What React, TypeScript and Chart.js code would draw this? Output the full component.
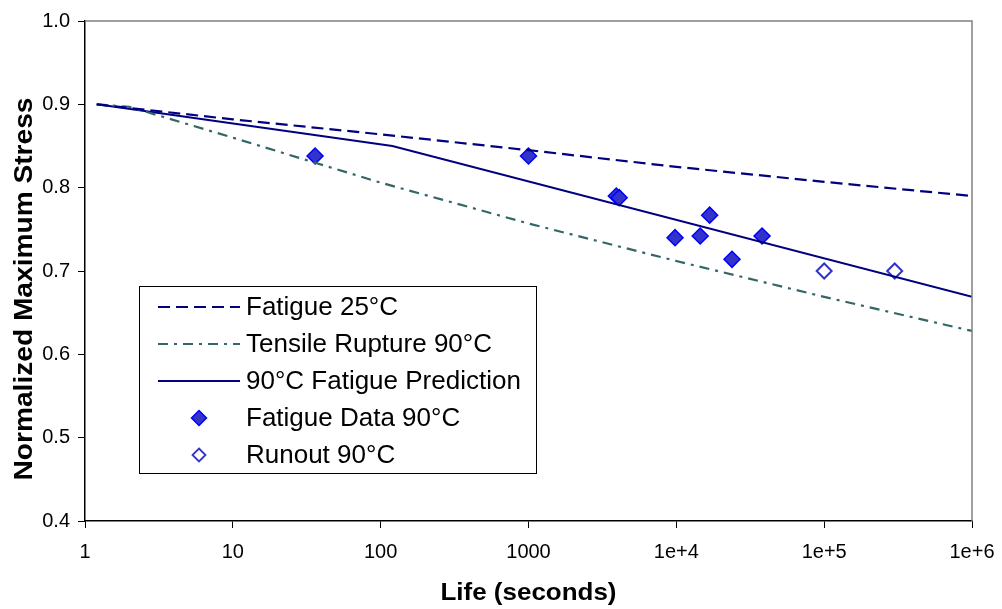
import React, { useEffect, useRef } from "react";
import { Chart, registerables } from "chart.js";

Chart.register(...registerables);

// ---- data ----
const fatigue25X = [1.2, 10, 100, 1000, 10000, 100000, 1000000];
const fatigue25Y = [0.9, 0.882, 0.864, 0.845, 0.825, 0.807, 0.79];

const tensileX = [1.2, 2, 10, 100, 1000, 10000, 100000, 1000000];
const tensileY = [0.9, 0.897, 0.86, 0.806, 0.757, 0.712, 0.669, 0.628];

const predictionX = [1.2, 120, 1000000];
const predictionY = [0.9, 0.85, 0.669];

const fatigueDataX = [36, 1000, 3926, 4105, 9800, 14500, 16800, 23800, 38000];
const fatigueDataY = [0.838, 0.838, 0.79, 0.788, 0.74, 0.742, 0.767, 0.714, 0.742];

const runoutX = [100000, 300000];
const runoutY = [0.7, 0.7];

const xTickValues = [1, 10, 100, 1000, 10000, 100000, 1000000];
const xTickLabels = ["1", "10", "100", "1000", "1e+4", "1e+5", "1e+6"];
const yTickValues = [0.4, 0.5, 0.6, 0.7, 0.8, 0.9, 1.0];

const seriesLabels = [
  "Fatigue 25°C",
  "Tensile Rupture 90°C",
  "90°C Fatigue Prediction",
  "Fatigue Data 90°C",
  "Runout 90°C",
];
const xTitle = "Life (seconds)";
const yTitle = "Normalized Maximum Stress";

const zip = (xs: number[], ys: number[]) => xs.map((x, i) => ({ x, y: ys[i] }));

const FONT = "'Liberation Sans', Arial, sans-serif";

function drawDiamond(ctx: CanvasRenderingContext2D, x: number, y: number, r: number) {
  ctx.beginPath();
  ctx.moveTo(x, y - r);
  ctx.lineTo(x + r, y);
  ctx.lineTo(x, y + r);
  ctx.lineTo(x - r, y);
  ctx.closePath();
}

const decorPlugin = {
  id: "decor",
  afterDraw(chart: any) {
    const ctx: CanvasRenderingContext2D = chart.ctx;
    const a = chart.chartArea;
    ctx.save();
    // top / right frame in gray
    ctx.strokeStyle = "#808080";
    ctx.lineWidth = 1.5;
    ctx.setLineDash([]);
    ctx.beginPath();
    ctx.moveTo(a.left, a.top);
    ctx.lineTo(a.right, a.top);
    ctx.lineTo(a.right, a.bottom);
    ctx.stroke();

    // x title
    ctx.fillStyle = "#000";
    ctx.font = `bold 24px ${FONT}`;
    ctx.textBaseline = "alphabetic";
    ctx.textAlign = "center";
    {
      const w = ctx.measureText(xTitle).width;
      const sx = 176 / w;
      ctx.save();
      ctx.translate((a.left + a.right) / 2, 600);
      ctx.scale(sx, 1);
      ctx.fillText(xTitle, 0, 0);
      ctx.restore();
    }
    // y title
    ctx.font = `bold 25px ${FONT}`;
    {
      const w = ctx.measureText(yTitle).width;
      const sx = 383 / w;
      ctx.save();
      ctx.translate(32, 289);
      ctx.rotate(-Math.PI / 2);
      ctx.scale(sx, 1);
      ctx.fillText(yTitle, 0, 0);
      ctx.restore();
    }

    // legend
    const bx = 139.5, by = 286.5, bw = 397, bh = 187;
    ctx.fillStyle = "#fff";
    ctx.fillRect(bx, by, bw, bh);
    ctx.strokeStyle = "#000";
    ctx.lineWidth = 1;
    ctx.strokeRect(bx, by, bw, bh);
    const rows = [307, 344, 381, 418, 455];
    const ds = chart.data.datasets;
    for (let i = 0; i < 5; i++) {
      const d = ds[i];
      const y = rows[i];
      ctx.save();
      if (i < 3) {
        ctx.strokeStyle = d.borderColor;
        ctx.lineWidth = d.borderWidth;
        ctx.setLineDash(d.borderDash || []);
        ctx.beginPath();
        ctx.moveTo(158, y);
        ctx.lineTo(240, y);
        ctx.stroke();
      } else {
        ctx.setLineDash([]);
        drawDiamond(ctx, 199, y, i === 3 ? 7.5 : 6.5);
        ctx.fillStyle = d.pointBackgroundColor;
        ctx.fill();
        ctx.strokeStyle = d.pointBorderColor;
        ctx.lineWidth = i === 3 ? 1.5 : 1.8;
        ctx.stroke();
      }
      ctx.restore();
      ctx.fillStyle = "#000";
      ctx.font = `26px ${FONT}`;
      ctx.textAlign = "left";
      ctx.textBaseline = "middle";
      ctx.fillText(d.label, 246, y + 1);
    }
    ctx.restore();
  },
};

export default function App() {
  const ref = useRef<HTMLCanvasElement | null>(null);
  useEffect(() => {
    if (!ref.current) return;
    const chart = new Chart(ref.current, {
      type: "scatter",
      data: {
        datasets: [
          {
            label: seriesLabels[0],
            data: zip(fatigue25X, fatigue25Y),
            showLine: true,
            borderColor: "#000080",
            borderWidth: 2.2,
            borderDash: [12, 6],
            pointRadius: 0,
            tension: 0,
          },
          {
            label: seriesLabels[1],
            data: zip(tensileX, tensileY),
            showLine: true,
            borderColor: "#336666",
            borderWidth: 2.2,
            borderDash: [10, 6, 3, 6],
            pointRadius: 0,
            tension: 0,
          },
          {
            label: seriesLabels[2],
            data: zip(predictionX, predictionY),
            showLine: true,
            borderColor: "#000080",
            borderWidth: 2,
            pointRadius: 0,
            tension: 0,
          },
          {
            label: seriesLabels[3],
            data: zip(fatigueDataX, fatigueDataY),
            showLine: false,
            pointStyle: "rectRot",
            pointRadius: 8,
            pointBackgroundColor: "#3333cc",
            pointBorderColor: "#0000ff",
            pointBorderWidth: 1.5,
          },
          {
            label: seriesLabels[4],
            data: zip(runoutX, runoutY),
            showLine: false,
            pointStyle: "rectRot",
            pointRadius: 7.5,
            pointBackgroundColor: "#ffffff",
            pointBorderColor: "#3333cc",
            pointBorderWidth: 2,
          },
        ] as any,
      },
      options: {
        animation: false,
        responsive: false,
        devicePixelRatio: 1,
        layout: { padding: { top: 21, right: 30, left: 0, bottom: 0 } },
        plugins: {
          legend: { display: false },
          tooltip: { enabled: false },
          title: { display: false },
        },
        scales: {
          x: {
            type: "logarithmic",
            min: 1,
            max: 1000000,
            afterBuildTicks: (s: any) => {
              s.ticks = xTickValues.map((v) => ({ value: v }));
            },
            afterFit: (s: any) => {
              s.height = 88;
              s.paddingLeft = 0;
              s.paddingRight = 0;
            },
            ticks: {
              autoSkip: false,
              maxRotation: 0,
              padding: 12,
              color: "#000",
              font: { family: FONT, size: 20 },
              callback: (v: any) => {
                const i = xTickValues.indexOf(Number(v));
                return i >= 0 ? xTickLabels[i] : "";
              },
            },
            grid: {
              drawOnChartArea: false,
              drawTicks: true,
              tickLength: 7,
              color: "#000",
              lineWidth: 1,
            },
            border: { color: "#000", width: 1.5 },
          },
          y: {
            type: "linear",
            min: 0.4,
            max: 1.0,
            afterBuildTicks: (s: any) => {
              s.ticks = yTickValues.map((v) => ({ value: v }));
            },
            afterFit: (s: any) => {
              s.width = 85;
              s.paddingTop = 0;
              s.paddingBottom = 0;
            },
            ticks: {
              padding: 8,
              color: "#000",
              font: { family: FONT, size: 20 },
              callback: (v: any) => Number(v).toFixed(1),
            },
            grid: {
              drawOnChartArea: false,
              drawTicks: true,
              tickLength: 7,
              color: "#000",
              lineWidth: 1,
            },
            border: { color: "#000", width: 1.5 },
          },
        },
      },
      plugins: [decorPlugin],
    });
    return () => chart.destroy();
  }, []);
  return (
    <div style={{ position: "absolute", left: 0, top: 0, width: 1002, height: 609, background: "#fff" }}>
      <canvas ref={ref} width={1002} height={609} />
    </div>
  );
}
